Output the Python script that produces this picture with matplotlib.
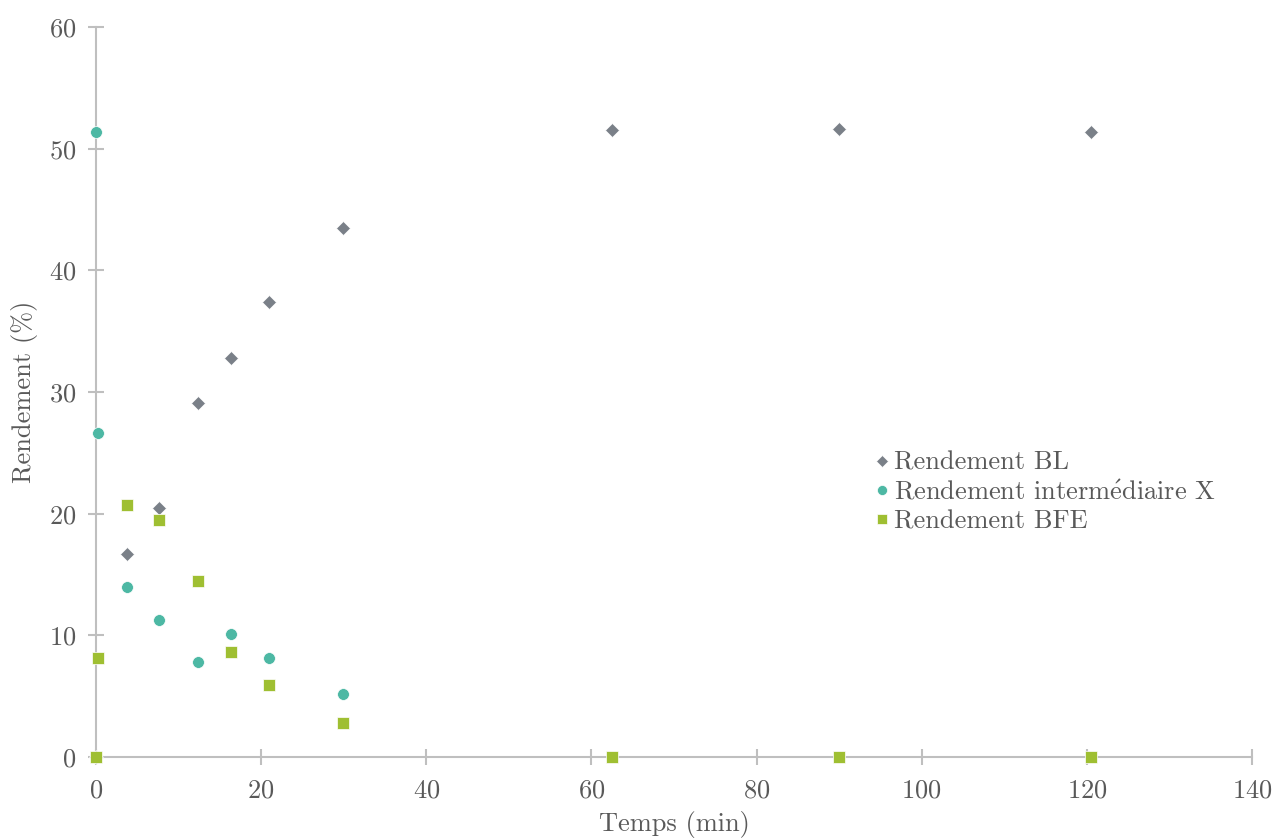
import matplotlib
matplotlib.use("Agg")
import matplotlib.pyplot as plt

plt.rcParams['font.family'] = ['cmr10', 'DejaVu Serif']
plt.rcParams['axes.formatter.use_mathtext'] = True
plt.rcParams['mathtext.fontset'] = 'cm'

# data
t_bl = [0, 3.75, 7.6, 12.35, 16.35, 20.95, 29.9, 62.5, 90.0, 120.5]
y_bl = [0, 16.7, 20.5, 29.1, 32.8, 37.4, 43.5, 51.5, 51.6, 51.4]

t_x = [0, 0.25, 3.75, 7.6, 12.35, 16.35, 20.95, 29.9]
y_x = [51.4, 26.6, 14.0, 11.3, 7.8, 10.1, 8.1, 5.2]

t_bfe = [0, 0.25, 3.75, 7.6, 12.35, 16.35, 20.95, 29.9, 62.5, 90.0, 120.5]
y_bfe = [0, 8.1, 20.7, 19.5, 14.5, 8.6, 5.9, 2.8, 0, 0, 0]

labels = ["Rendement BL", r"Rendement interm$\acute{\mathrm{e}}$diaire X", "Rendement BFE"]

grey = "#7a8088"
teal = "#4db8a4"
green = "#9fbf32"
axcol = "#bfbfbf"
txtcol = "#595959"
fs = 19

fig = plt.figure(figsize=(12.74, 8.39), dpi=100)
ax = fig.add_axes([96 / 1274, 82 / 839, 1156 / 1274, 730 / 839])

ax.plot(t_bl, y_bl, ls="none", marker="D", ms=7, color=grey, mec="white", mew=0.5, label=labels[0], clip_on=False, zorder=3)
ax.plot(t_x, y_x, ls="none", marker="o", ms=8.5, color=teal, mec="white", mew=0.5, label=labels[1], clip_on=False, zorder=3)
ax.plot(t_bfe, y_bfe, ls="none", marker="s", ms=8.5, color=green, mec="white", mew=0.5, label=labels[2], clip_on=False, zorder=4)

ax.set_xlim(0, 140)
ax.set_ylim(0, 60)
ax.set_xticks(range(0, 141, 20))
ax.set_yticks(range(0, 61, 10))

for s in ["top", "right"]:
    ax.spines[s].set_visible(False)
for s in ["left", "bottom"]:
    ax.spines[s].set_color(axcol)
    ax.spines[s].set_linewidth(1.5)
ax.tick_params(direction="inout", length=12, width=1.5, color=axcol,
               labelcolor=txtcol, labelsize=fs)
ax.tick_params(axis="x", pad=10)
ax.tick_params(axis="y", pad=8)

ax.set_xlabel("Temps (min)", fontsize=fs, color=txtcol, labelpad=6)
ax.set_ylabel("Rendement (%)", fontsize=fs, color=txtcol, labelpad=8)

leg = ax.legend(loc="upper left", bbox_to_anchor=(861 / 1274, 1 - 438 / 839),
                bbox_transform=fig.transFigure, frameon=False, fontsize=fs,
                handletextpad=0.15, handlelength=0.6, labelspacing=0.2,
                borderpad=0, markerscale=0.85)
for t in leg.get_texts():
    t.set_color(txtcol)

fig.savefig("out.png", dpi=100)
